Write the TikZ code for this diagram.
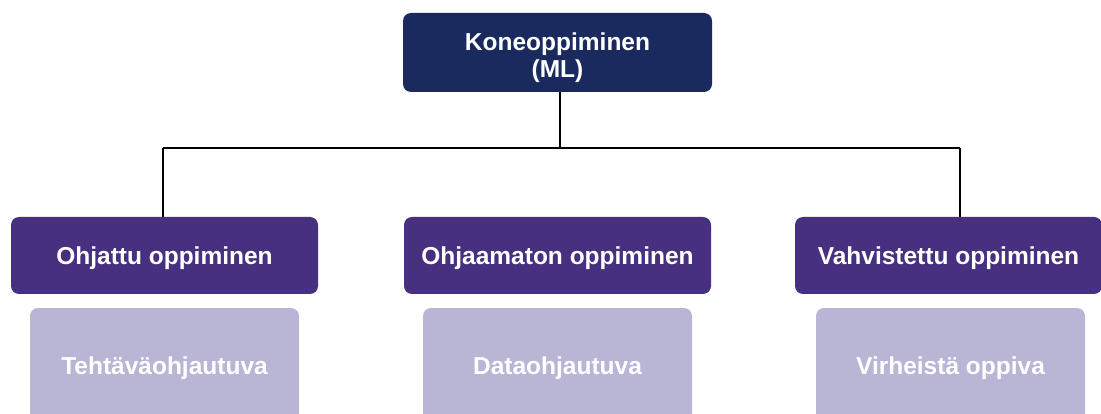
\documentclass[tikz,border=0pt]{standalone}
\usepackage{fontspec}
\setmainfont{Liberation Sans}
\definecolor{navy}{HTML}{1B2A5E}
\definecolor{grape}{HTML}{47307F}
\definecolor{lilac}{HTML}{B8B5D5}
\tikzset{
  x=1pt, y=-1pt,
  base/.style={rounded corners=8pt, align=center, text=white, font=\bfseries\fontsize{24.5}{27}\selectfont, inner sep=0pt},
  rootbox/.style={base, fill=navy, minimum width=309pt, minimum height=79pt, text height=57pt, text depth=6pt},
  branch/.style={base, fill=grape, minimum width=307pt, minimum height=77pt, text height=24pt, text depth=6pt},
  leaf/.style={base, fill=lilac, minimum width=269pt, minimum height=118pt, text height=22pt, text depth=7pt},
  link/.style={draw=black, line width=2pt}
}
\begin{document}
\begin{tikzpicture}
\useasboundingbox (0,0) rectangle (1101,414);
\clip (0,0) rectangle (1101,414);
\node[rootbox] (ml) at (557.5,52.5) {Koneoppiminen\\(ML)};
\node[branch] (sup) at (164.5,255.5) {Ohjattu oppiminen};
\node[branch] (uns) at (557.5,255.5) {Ohjaamaton oppiminen};
\node[branch] (rl) at (948.5,255.5) {Vahvistettu oppiminen};
\node[leaf] (task) at (164.5,367) {Tehtäväohjautuva};
\node[leaf] (data) at (557.5,367) {Dataohjautuva};
\node[leaf] (err) at (950.5,367) {Virheistä oppiva};
\coordinate (hub) at (560,148);
\coordinate (hl) at (163,148);
\coordinate (hr) at (960,148);
\draw[link] (ml.south -| hub) -- (hub);
\draw[link] (hl) -- (hr);
\draw[link] (hl) -- (hl |- sup.north);
\draw[link] (hr) -- (hr |- rl.north);
\end{tikzpicture}
\end{document}
